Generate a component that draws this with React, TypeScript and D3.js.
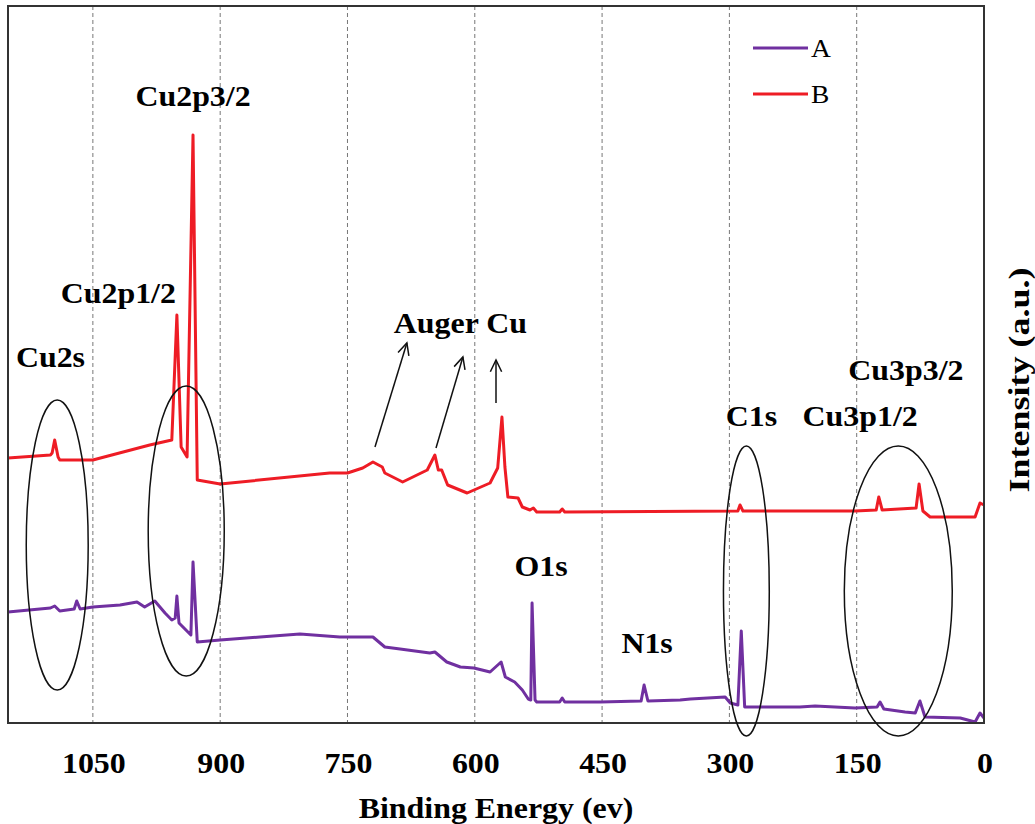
import React, { useEffect, useRef } from 'react';
import * as d3 from 'd3';

// XPS survey spectra, [binding energy (eV), intensity (a.u.)]
const seriesA: [number, number][] = [
    [1150, 111], [1100, 115], [1095, 117], [1089, 112], [1072, 114], [1069, 122], [1065, 114],
    [1050, 116], [1018, 118], [998, 121], [989, 116], [977, 122], [965, 110], [957, 103],
    [953, 105], [951, 127], [948.5, 100], [938, 91], [934.5, 88], [932, 161], [927, 81],
    [900, 83], [853, 86], [806, 89], [759, 86], [750, 86], [720, 86], [706, 76], [688, 74],
    [653, 70], [647, 71], [633, 61], [617, 56], [601, 55], [582, 51], [569, 61], [564, 46],
    [553, 41], [544, 33], [537, 24], [534, 23], [532.5, 120], [529, 23], [527, 21], [500, 21],
    [497, 25], [494, 21], [452, 21], [404, 22], [400.5, 38], [396, 22], [358, 23], [346, 24],
    [305, 26], [299, 20], [290, 18], [286, 92], [282, 16], [217, 16], [199, 17], [152, 15],
    [126, 16], [122.5, 21], [118, 14], [93, 11], [81, 10], [75.5, 22], [69.5, 6], [28, 5],
    [10.5, 1], [4.7, 10], [0, 5],
];

const seriesB: [number, number][] = [
    [1150, 265], [1100, 268], [1098, 270], [1095, 283], [1091, 266], [1089, 263], [1050, 263],
    [983, 278], [957, 283], [951, 408], [946, 276], [939, 266], [932, 588], [927, 243],
    [900, 239], [771, 250], [750, 250], [732, 255], [720, 261], [709, 256], [706, 250],
    [685, 241], [656, 253], [647, 268], [643, 253], [639, 253], [632, 238], [609, 230],
    [582, 240], [573, 255], [568, 306], [564.5, 256], [561, 226], [549, 225], [544, 216],
    [535, 213], [531, 215], [527, 211], [500, 211], [497, 214], [494, 211], [290, 212],
    [287.5, 218], [284, 212], [152, 212], [127, 213], [124, 226], [120, 213], [80, 215],
    [76.5, 239], [72, 212], [63.5, 206], [10.5, 206], [4.7, 220], [0, 218],
];

const seriesNames = ['A', 'B'];
const xTicks = [1050, 900, 750, 600, 450, 300, 150, 0];

// peak labels: [text, energy, intensity]
const peakLabels: [string, number, number][] = [
    ['Cu2p3/2', 932, 617], ['Cu2p1/2', 1020, 420], ['Cu2s', 1100, 356], ['Auger Cu', 617, 390],
    ['O1s', 522, 147], ['N1s', 397, 70], ['C1s', 274, 297], ['Cu3p1/2', 146, 297], ['Cu3p3/2', 92, 343],
];

// circled regions: [energy centre, intensity centre, energy half-width, intensity half-height]
const circles: [number, number, number, number][] = [
    [1092, 178, 36.5, 145], [940, 192, 44.8, 145], [280, 132, 27, 145], [101, 132, 63.6, 145],
];

// Auger arrows: [from energy, from intensity, to energy, to intensity]
const arrows: [number, number, number, number][] = [
    [717.6, 276, 680, 380], [645.7, 275, 614, 366], [575, 320, 575, 363],
];

const width = 1035;
const height = 824;
const font = "'Liberation Serif', 'Times New Roman', serif";
const stretch = 1.1; // the original text is a little wider than Times

const App: React.FC = () => {
    const svgRef = useRef<SVGSVGElement>(null);

    useEffect(() => {
        if (!svgRef.current) return;
        const svg = d3.select(svgRef.current);
        svg.selectAll('*').remove();

        const margin = { top: 6, right: 51, bottom: 101, left: 8 };
        const w = width - margin.left - margin.right;
        const h = height - margin.top - margin.bottom;

        const x = d3.scaleLinear().domain([1150, 0]).range([0, w]);
        const y = d3.scaleLinear().domain([0, 717]).range([h, 0]);

        const chart = svg.append('g').attr('transform', `translate(${margin.left},${margin.top})`);

        // dashed vertical grid
        chart.append('g')
            .selectAll('line')
            .data(xTicks.filter(t => t !== 0))
            .enter()
            .append('line')
            .attr('x1', d => x(d)).attr('x2', d => x(d))
            .attr('y1', 0).attr('y2', h)
            .attr('stroke', '#777')
            .attr('stroke-width', 1)
            .attr('stroke-dasharray', '4,3');

        // tick labels
        chart.append('g')
            .selectAll('text')
            .data(xTicks)
            .enter()
            .append('text')
            .attr('transform', d => `translate(${x(d) + 1},${h + 50}) scale(${stretch},1)`)
            .attr('text-anchor', 'middle')
            .style('font-family', font)
            .style('font-weight', 'bold')
            .style('font-size', '29px')
            .text(d => d);

        const line = d3.line<[number, number]>()
            .x(d => x(d[0]))
            .y(d => y(d[1]));

        chart.append('path')
            .datum(seriesB)
            .attr('d', line)
            .attr('fill', 'none')
            .attr('stroke', '#ee1c25')
            .attr('stroke-width', 3)
            .attr('stroke-linejoin', 'round');

        chart.append('path')
            .datum(seriesA)
            .attr('d', line)
            .attr('fill', 'none')
            .attr('stroke', '#7030a0')
            .attr('stroke-width', 3)
            .attr('stroke-linejoin', 'round');

        // frame
        chart.append('rect')
            .attr('x', 0).attr('y', 0)
            .attr('width', w).attr('height', h)
            .attr('fill', 'none')
            .attr('stroke', '#333')
            .attr('stroke-width', 2);

        // circled regions
        chart.append('g')
            .selectAll('ellipse')
            .data(circles)
            .enter()
            .append('ellipse')
            .attr('cx', d => x(d[0]))
            .attr('cy', d => y(d[1]))
            .attr('rx', d => Math.abs(x(0) - x(d[2])))
            .attr('ry', d => y(0) - y(d[3]))
            .attr('fill', 'none')
            .attr('stroke', '#111')
            .attr('stroke-width', 1.5);

        // arrows with open heads
        const arrowG = chart.append('g').attr('stroke', '#111').attr('stroke-width', 1.5).attr('fill', 'none');
        arrows.forEach(a => {
            const x1 = x(a[0]), y1 = y(a[1]), x2 = x(a[2]), y2 = y(a[3]);
            arrowG.append('line').attr('x1', x1).attr('y1', y1).attr('x2', x2).attr('y2', y2);
            const ang = Math.atan2(y2 - y1, x2 - x1);
            const len = 13, spread = 0.45;
            const p1: [number, number] = [x2 - len * Math.cos(ang - spread), y2 - len * Math.sin(ang - spread)];
            const p2: [number, number] = [x2 - len * Math.cos(ang + spread), y2 - len * Math.sin(ang + spread)];
            arrowG.append('path').attr('d', `M${p1[0]},${p1[1]}L${x2},${y2}L${p2[0]},${p2[1]}`);
        });

        // peak labels
        chart.append('g')
            .selectAll('text')
            .data(peakLabels)
            .enter()
            .append('text')
            .attr('transform', d => `translate(${x(d[1])},${y(d[2])}) scale(${stretch},1)`)
            .attr('text-anchor', 'middle')
            .style('font-family', font)
            .style('font-weight', 'bold')
            .style('font-size', '29px')
            .text(d => d[0]);

        // legend
        const legend = chart.append('g').attr('transform', `translate(${745},${42})`);
        seriesNames.forEach((name, i) => {
            legend.append('line')
                .attr('x1', 0).attr('x2', 55)
                .attr('y1', i * 46).attr('y2', i * 46)
                .attr('stroke', i === 0 ? '#7030a0' : '#ee1c25')
                .attr('stroke-width', 3);
            legend.append('text')
                .attr('transform', `translate(58,${i * 46 + 9}) scale(${stretch},1)`)
                .style('font-family', font)
                .style('font-size', '25px')
                .text(name);
        });

        // axis titles
        svg.append('text')
            .attr('transform', `translate(${margin.left + w / 2},818) scale(${stretch},1)`)
            .attr('text-anchor', 'middle')
            .style('font-family', font)
            .style('font-weight', 'bold')
            .style('font-size', '29px')
            .text('Binding Energy (ev)');

        svg.append('text')
            .attr('transform', `translate(1029,${380}) rotate(-90) scale(1.2,1)`)
            .attr('text-anchor', 'middle')
            .style('font-family', font)
            .style('font-weight', 'bold')
            .style('font-size', '30px')
            .text('Intensity (a.u.)');
    }, []);

    return (
        <svg
            ref={svgRef}
            width={width}
            height={height}
            style={{ position: 'absolute', left: 0, top: 0, background: '#fff' }}
        />
    );
};

export default App;
